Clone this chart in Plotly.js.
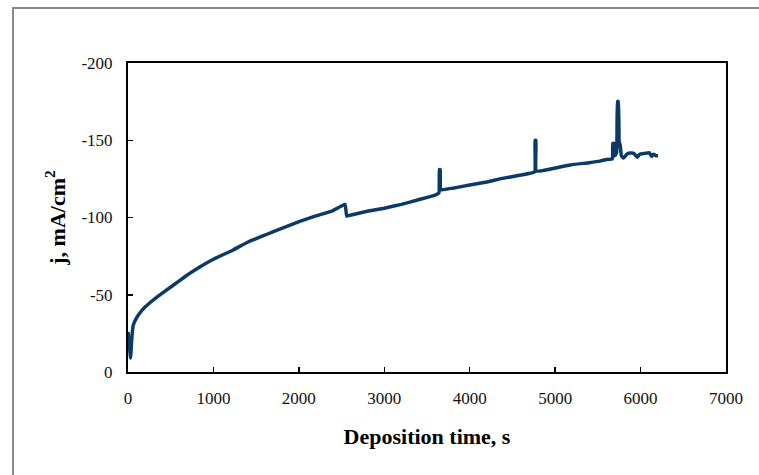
<!DOCTYPE html>
<html>
<head>
<meta charset="utf-8">
<script src="https://cdn.plot.ly/plotly-3.0.1.min.js"></script>
<style>html,body{margin:0;padding:0;background:#fff;}#chart{width:759px;height:475px;}</style>
</head>
<body>
<div id="chart"></div>
<script>
const timeS = [0, 15, 30, 45, 60, 100, 150, 200, 260, 350, 450, 600, 700, 840, 1000, 1230, 1400, 1620, 1800, 2010, 2200, 2400, 2540, 2560, 2600, 2800, 3000, 3200, 3400, 3594, 3640, 3645, 3655, 3660, 3800, 4000, 4200, 4354, 4600, 4760, 4765, 4775, 4780, 5000, 5174, 5400, 5525, 5600, 5670, 5675, 5690, 5700, 5720, 5730, 5740, 5750, 5760, 5775, 5800, 5840, 5876, 5920, 5960, 5990, 6050, 6100, 6130, 6150, 6180, 6204];
const currentJ = [-26, -18, -9, -22, -30, -35, -39, -42, -45, -49, -53, -59, -63, -68, -73, -79, -84, -89, -93, -97.5, -101, -104.5, -108.5, -101, -101.5, -104, -106, -108.5, -111.5, -114.5, -116, -131, -131, -118, -119, -121, -123, -125, -127.5, -129.5, -150, -150, -130, -132, -134, -135.5, -136.5, -137.5, -138, -148, -148, -140, -142, -175, -175, -146, -148, -140, -138.5, -141, -141.7, -141.5, -139, -141, -141.5, -142, -139.5, -141, -140, -140];
const xTicks = [0, 1000, 2000, 3000, 4000, 5000, 6000, 7000];
const yTickVals = [0, -50, -100, -150, -200];
const yTickText = ["0", "-50", "-100", "-150", "-200"];

const serif = "Liberation Serif, Times New Roman, serif";
Plotly.newPlot('chart', [{
  x: timeS, y: currentJ, type: 'scatter', mode: 'lines',
  line: {color: '#0b3a66', width: 3.5, shape: 'spline', smoothing: 0.3}
}], {
  width: 759, height: 475,
  margin: {l: 128, r: 33, t: 63, b: 103},
  paper_bgcolor: '#fff', plot_bgcolor: '#fff',
  showlegend: false,
  font: {family: serif, size: 17, color: '#111'},
  xaxis: {
    range: [0, 7000], tickvals: xTicks, ticks: 'inside', ticklen: 5, tickwidth: 1.5, tickcolor: '#000',
    showline: true, linecolor: '#000', linewidth: 2, mirror: true, showgrid: false, zeroline: false,
    ticklabelstandoff: 10,
    tickfont: {family: serif, size: 17, color: '#111'},
    title: {text: '<b>Deposition time, s</b>', font: {family: serif, size: 22, color: '#000'}, standoff: 21}
  },
  yaxis: {
    range: [0, -200], tickvals: yTickVals, ticktext: yTickText, ticks: 'inside', ticklen: 5, tickwidth: 1.5, tickcolor: '#000',
    showline: true, linecolor: '#000', linewidth: 2, mirror: true, showgrid: false, zeroline: false,
    ticklabelstandoff: 10,
    tickfont: {family: serif, size: 17, color: '#111'},
    title: {text: '<b>j, mA/cm<sup>2</sup></b>', font: {family: serif, size: 22, color: '#000'}, standoff: 10}
  },
  shapes: [{
    type: 'rect', xref: 'paper', yref: 'paper',
    x0: -0.1923, x1: 1.08, y0: -0.36, y1: 1.178,
    line: {color: '#8a8a8a', width: 2}, fillcolor: 'rgba(0,0,0,0)', layer: 'above'
  }]
}, {displayModeBar: false, staticPlot: true});
</script>
</body>
</html>
